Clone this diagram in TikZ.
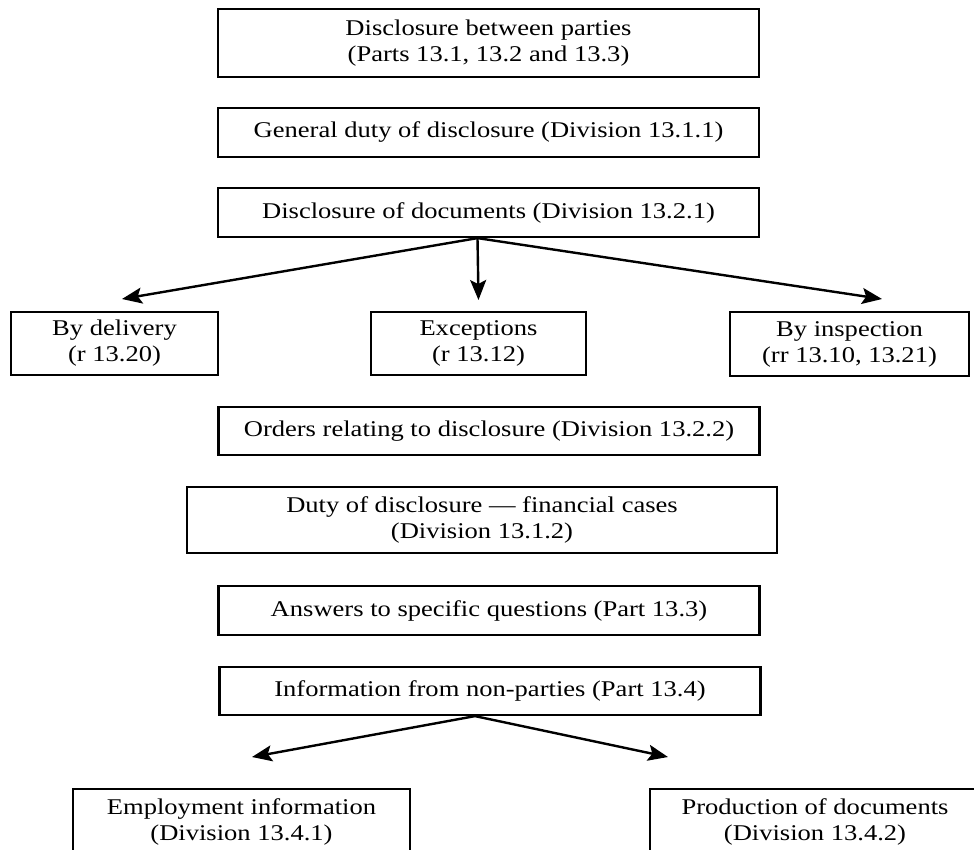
\documentclass[tikz,border=0pt]{standalone}
\usepackage{fontspec}
\setmainfont{Liberation Serif}[FakeStretch=1.18]
\usetikzlibrary{arrows.meta}

\begin{document}
\begin{tikzpicture}[x=1pt,y=-1pt,
  box/.style={draw,line width=2.2pt,align=center,inner sep=0pt,
    font=\fontsize{22.5}{26}\selectfont},
  wide/.style={box,minimum width=541pt,minimum height=49pt},
  arr/.style={-{Stealth[length=20pt,width=16pt,inset=4pt]},line width=2.4pt}]
  \clip (0,0) rectangle (974,849);
  % top row
  \node[wide,minimum height=68pt] (parties) at (488.5,43) {Disclosure between parties\\(Parts 13.1, 13.2 and 13.3)};
  \node[wide] (general) at (488.5,132.5) {General duty of disclosure (Division 13.1.1)};
  \node[wide] (docs) at (488.5,212.5) {Disclosure of documents (Division 13.2.1)};
  % three ways
  \node[box,minimum width=207pt,minimum height=63pt] (delivery) at (114.5,343.5) {By delivery\\(r 13.20)};
  \node[box,minimum width=215pt,minimum height=63pt] (excpt) at (478.5,343.5) {Exceptions\\(r 13.12)};
  \node[box,minimum width=239pt,minimum height=64pt] (inspect) at (849.5,344) {By inspection\\(rr 13.10, 13.21)};
  \coordinate (dtip) at (122,299);
  \coordinate (etip) at (478.5,300);
  \coordinate (itip) at (882,299);
  \draw[arr] ([xshift=-11pt]docs.south) -- (dtip);
  \draw[arr] ([xshift=-11pt]docs.south) -- (etip);
  \draw[arr] ([xshift=-11pt]docs.south) -- (itip);
  % the rest
  \node[wide,minimum height=48pt] (orders) at (489,431) {Orders relating to disclosure (Division 13.2.2)};
  \node[box,minimum width=590pt,minimum height=66pt] (financial) at (482,520) {Duty of disclosure — financial cases\\(Division 13.1.2)};
  \node[wide] (answers) at (489,610.5) {Answers to specific questions (Part 13.3)};
  \node[wide,minimum height=48pt] (info) at (490,691) {Information from non-parties (Part 13.4)};
  % non-parties
  \node[box,minimum width=337pt,minimum height=66pt] (employ) at (241.5,822) {Employment information\\(Division 13.4.1)};
  \node[box,minimum width=330pt,minimum height=66pt] (produce) at (815,822) {Production of documents\\(Division 13.4.2)};
  \coordinate (emtip) at (252,757);
  \coordinate (prtip) at (668,757);
  \draw[arr] ([xshift=-15pt]info.south) -- (emtip);
  \draw[arr] ([xshift=-15pt]info.south) -- (prtip);
\end{tikzpicture}
\end{document}
